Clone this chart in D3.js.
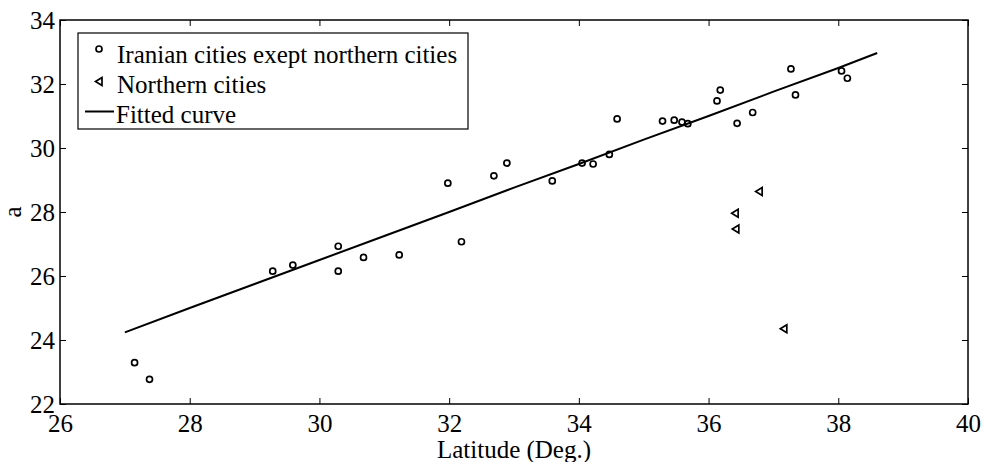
<!DOCTYPE html>
<html><head><meta charset="utf-8">
<script src="https://cdn.jsdelivr.net/npm/d3@7"></script>
<style>body{margin:0;background:#fff}svg{display:block}</style>
</head><body><svg id="c" width="983" height="462"></svg>
<script>
// Data
const xTicks = [26, 28, 30, 32, 34, 36, 38, 40];
const yTicks = [22, 24, 26, 28, 30, 32, 34];
const iranLat = [27.15, 27.38, 29.28, 29.59, 30.29, 30.29, 30.68, 31.23, 31.98, 32.19, 32.69, 32.89, 33.59, 34.05, 34.22, 34.47, 34.59, 35.29, 35.47, 35.59, 35.68, 36.13, 36.18, 36.44, 36.68, 37.27, 37.34, 38.05, 38.14];
const iranA   = [23.29, 22.77, 26.15, 26.34, 26.93, 26.15, 26.58, 26.66, 28.90, 27.07, 29.13, 29.53, 28.97, 29.53, 29.50, 29.80, 30.91, 30.84, 30.87, 30.81, 30.76, 31.47, 31.81, 30.77, 31.11, 32.47, 31.66, 32.41, 32.18];
const northLat = [36.78, 36.41, 36.42, 37.16];
const northA   = [28.64, 27.96, 27.47, 24.35];
const fitLat = [27, 28, 29, 30, 31, 32, 33, 34, 35, 36, 37, 38, 38.6];
const fitA   = [24.24, 25.0, 25.75, 26.5, 27.25, 28.0, 28.76, 29.5, 30.26, 31.0, 31.76, 32.5, 32.97];
const legendLabels = ["Iranian cities exept northern cities", "Northern cities", "Fitted curve"];
const xLabel = "Latitude (Deg.)";
const yLabel = "a";

const FONT = "'Liberation Serif', 'Times New Roman', serif";
const svg = d3.select("#c");
const L = 60, R = 968, T = 20, B = 404;
const x = d3.scaleLinear().domain([26, 40]).range([L, R]);
const y = d3.scaleLinear().domain([22, 34]).range([B, T]);
const fs = 25;

const styleText = sel => sel.style("font-family", FONT).style("font-size", fs + "px").style("fill", "#000");

// axes frame
const g = svg.append("g");
g.append("g").attr("transform", `translate(0,${B})`)
  .call(d3.axisBottom(x).tickValues(xTicks).tickSizeInner(-6).tickSizeOuter(0).tickPadding(10))
  .call(s => { s.select(".domain").remove(); s.selectAll("text").call(styleText).attr("dy", "0.72em"); });
g.append("g").attr("transform", `translate(${L},0)`)
  .call(d3.axisLeft(y).tickValues(yTicks).tickSizeInner(-6).tickSizeOuter(0).tickPadding(5))
  .call(s => { s.select(".domain").remove(); s.selectAll("text").call(styleText); });
g.append("g").attr("transform", `translate(0,${T})`)
  .call(d3.axisTop(x).tickValues(xTicks).tickSizeInner(-6).tickSizeOuter(0).tickFormat(""))
  .call(s => s.select(".domain").remove());
g.append("g").attr("transform", `translate(${R},0)`)
  .call(d3.axisRight(y).tickValues(yTicks).tickSizeInner(-6).tickSizeOuter(0).tickFormat(""))
  .call(s => s.select(".domain").remove());
g.selectAll(".tick line").attr("stroke", "#000").attr("stroke-width", 1);
g.append("rect").attr("x", L).attr("y", T).attr("width", R - L).attr("height", B - T)
  .attr("fill", "none").attr("stroke", "#000").attr("stroke-width", 1.5);

// fitted line
svg.append("path").datum(fitLat.map((v, i) => [v, fitA[i]]))
  .attr("d", d3.line().x(d => x(d[0])).y(d => y(d[1])))
  .attr("fill", "none").attr("stroke", "#000").attr("stroke-width", 2);

// circles
svg.append("g").selectAll("circle").data(iranLat.map((v, i) => [v, iranA[i]])).join("circle")
  .attr("cx", d => x(d[0])).attr("cy", d => y(d[1])).attr("r", 3)
  .attr("fill", "none").attr("stroke", "#000").attr("stroke-width", 1.7);

// left triangles
const tri = (cx, cy) => `M${cx - 3.5},${cy} L${cx + 3},${cy - 4} L${cx + 3},${cy + 4} Z`;
svg.append("g").selectAll("path").data(northLat.map((v, i) => [v, northA[i]])).join("path")
  .attr("d", d => tri(x(d[0]), y(d[1])))
  .attr("fill", "none").attr("stroke", "#000").attr("stroke-width", 1.7);

// axis labels
svg.append("text").attr("x", (L + R) / 2).attr("y", 458).attr("text-anchor", "middle").call(styleText).text(xLabel);
svg.append("text").attr("transform", `translate(21,${(T + B) / 2}) rotate(-90)`).attr("text-anchor", "middle").call(styleText).text(yLabel);

// legend
const lg = svg.append("g");
lg.append("rect").attr("x", 78).attr("y", 33).attr("width", 390).attr("height", 96)
  .attr("fill", "#fff").attr("stroke", "#000").attr("stroke-width", 1.2);
const rows = [55, 85, 115];
lg.append("circle").attr("cx", 99).attr("cy", 49).attr("r", 3).attr("fill", "none").attr("stroke", "#000").attr("stroke-width", 1.7);
lg.append("path").attr("d", tri(99, 81.5)).attr("fill", "none").attr("stroke", "#000").attr("stroke-width", 1.7);
lg.append("line").attr("x1", 85).attr("x2", 114).attr("y1", 111.5).attr("y2", 111.5).attr("stroke", "#000").attr("stroke-width", 2);
lg.selectAll("text.l").data(legendLabels).join("text").attr("class", "l")
  .attr("x", (d, i) => i === 2 ? 116 : 117).attr("y", (d, i) => rows[i]).attr("dy", "0.33em")
  .call(styleText).text(d => d);
</script></body></html>
